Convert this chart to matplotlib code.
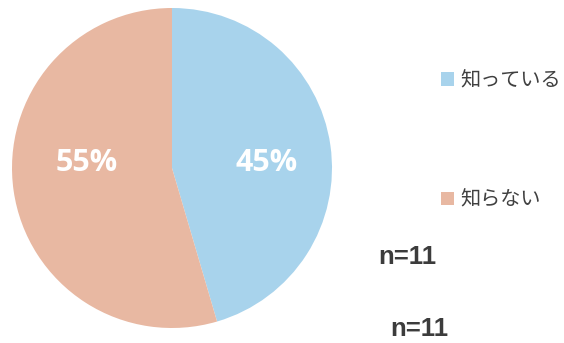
import matplotlib
matplotlib.use("Agg")
import matplotlib.pyplot as plt

categories = ["知っている", "知らない"]
counts = [5, 6]
colors = ["#A8D3EC", "#E8B8A2"]
n_label = "n=11"

W, H = 564, 343
fig = plt.figure(figsize=(W / 100, H / 100), dpi=100)
ax = fig.add_axes([0, 0, 1, 1])
ax.set_xlim(0, W)
ax.set_ylim(0, H)
ax.axis("off")

cx, cy, r = 172, H - 168, 160
wedges, texts, autotexts = ax.pie(
    counts, colors=colors, startangle=90, counterclock=False,
    center=(cx, cy), radius=r, autopct="%1.0f%%", pctdistance=0.59,
    wedgeprops=dict(edgecolor="none"),
    textprops=dict(color="white", fontsize=22, fontweight="bold", family="Open Sans"),
)
ax.set_xlim(0, W)
ax.set_ylim(0, H)
ax.set_aspect("equal")
autotexts[0].set_position((cx + 95, cy + 5))
autotexts[1].set_position((cx - 85, cy + 5))

leg = ax.legend(
    wedges, categories, loc="upper left", bbox_to_anchor=(441 / W, 1 - 70 / H),
    frameon=False, handlelength=0.65, handleheight=0.65, handletextpad=0.3,
    labelspacing=4.9, borderpad=0, borderaxespad=0,
    prop=dict(family=["Noto Sans CJK JP", "DejaVu Sans"], size=14.5),
)
for t in leg.get_texts():
    t.set_color("#404040")

ax.text(407, H - 257, n_label, ha="center", va="center", fontsize=18.5,
        fontweight="bold", family="Liberation Sans", color="#3c3c3c")
ax.text(419, H - 329, n_label, ha="center", va="center", fontsize=18.5,
        fontweight="bold", family="Liberation Sans", color="#3c3c3c")

fig.savefig("out.png", dpi=100)
